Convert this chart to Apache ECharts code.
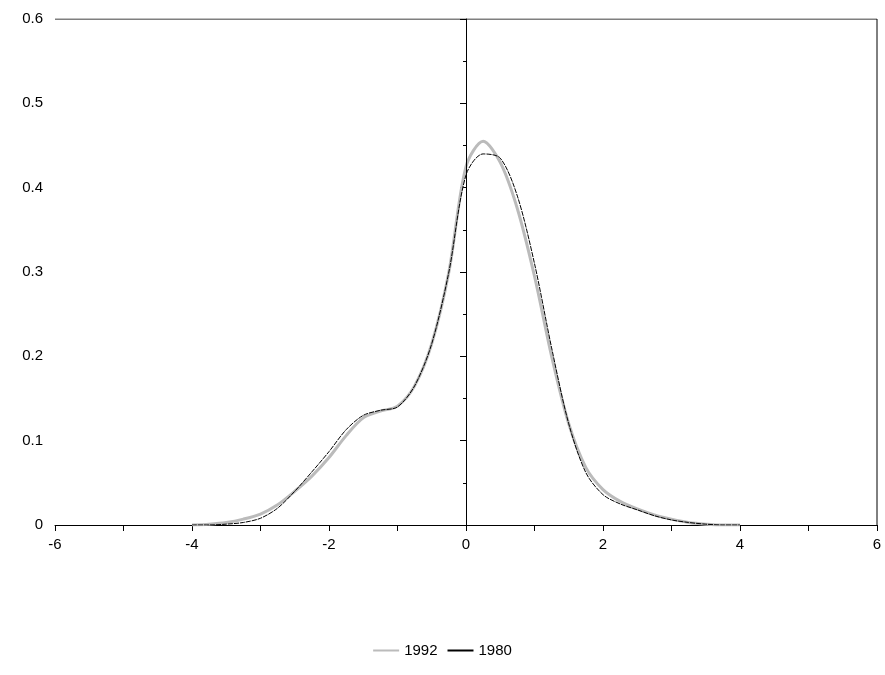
<!DOCTYPE html>
<html><head><meta charset="utf-8">
<script src="https://cdn.jsdelivr.net/npm/echarts@6/dist/echarts.min.js"></script>
<style>body{margin:0;background:#fff}#chart{width:885px;height:675px}</style>
</head><body><div id="chart"></div>
<script>
var xs = [-4,-3.75,-3.5,-3.25,-3,-2.75,-2.5,-2.25,-2,-1.75,-1.5,-1.25,-1,-0.75,-0.5,-0.25,0,0.25,0.5,0.75,1,1.25,1.5,1.75,2,2.25,2.5,2.75,3,3.25,3.5,3.75,4];
var y1992 = [0,0.001,0.003,0.007,0.013,0.024,0.04,0.058,0.08,0.106,0.127,0.135,0.141,0.165,0.215,0.3,0.425,0.455,0.43,0.375,0.295,0.2,0.12,0.068,0.042,0.028,0.019,0.012,0.007,0.003,0.001,0,0];
var y1980 = [0,0,0.001,0.003,0.008,0.02,0.04,0.063,0.087,0.113,0.13,0.136,0.14,0.165,0.215,0.3,0.415,0.44,0.435,0.39,0.31,0.21,0.12,0.062,0.036,0.025,0.018,0.011,0.006,0.003,0.001,0,0];

function pairs(ys){ return xs.map(function(x,i){ return [x, ys[i]]; }); }

var font = 'Liberation Sans';
var chart = echarts.init(document.getElementById('chart'));
chart.setOption({
  animation: false,
  textStyle: {fontFamily: font},
  grid: {left: 55, right: 8, top: 19, bottom: 150},
  legend: {
    bottom: 12, left: 'center', itemWidth: 26, itemHeight: 2, itemGap: 10,
    textStyle: {fontFamily: font, fontSize: 15, color: '#000'},
    data: [{name: '1992', icon: 'rect'}, {name: '1980', icon: 'rect'}]
  },
  xAxis: {
    type: 'value', min: -6, max: 6, interval: 2,
    axisLine: {onZero: false, lineStyle: {color: '#000'}},
    axisTick: {show: true, length: 6, lineStyle: {color: '#000'}},
    minorTick: {show: true, splitNumber: 2, length: 6, lineStyle: {color: '#000'}},
    axisLabel: {color: '#000', fontSize: 15, margin: 12},
    splitLine: {show: false}
  },
  yAxis: {
    type: 'value', min: 0, max: 0.6, interval: 0.1,
    axisLine: {show: true, lineStyle: {color: '#000'}},
    axisTick: {show: true, length: 6, lineStyle: {color: '#000'}},
    minorTick: {show: true, splitNumber: 2, length: 3, lineStyle: {color: '#000'}},
    axisLabel: {color: '#000', fontSize: 15, margin: 12, formatter: function(v){ return v === 0 ? '0' : v.toFixed(1); }},
    splitLine: {show: false}
  },
  series: [
    {name: '1992', type: 'line', smooth: 0.3, symbol: 'none', data: pairs(y1992),
     lineStyle: {color: '#bbb', width: 3}, itemStyle: {color: '#bbb'},
     markLine: {silent: true, symbol: 'none', label: {show: false},
       lineStyle: {color: '#000', width: 1, type: 'solid'}, data: [{xAxis: 0}]}},
    {name: '1980', type: 'line', smooth: 0.3, symbol: 'none', data: pairs(y1980),
     lineStyle: {color: '#000', width: 1, type: [5, 1]}, itemStyle: {color: '#000'}},
    {name: 'frameTop', type: 'line', data: [[-6, 0.6], [6, 0.6]], symbol: 'none', silent: true,
     lineStyle: {color: '#000', width: 1}},
    {name: 'frameRight', type: 'line', data: [[6, 0], [6, 0.6]], symbol: 'none', silent: true,
     lineStyle: {color: '#000', width: 1}}
  ]
});
</script></body></html>
